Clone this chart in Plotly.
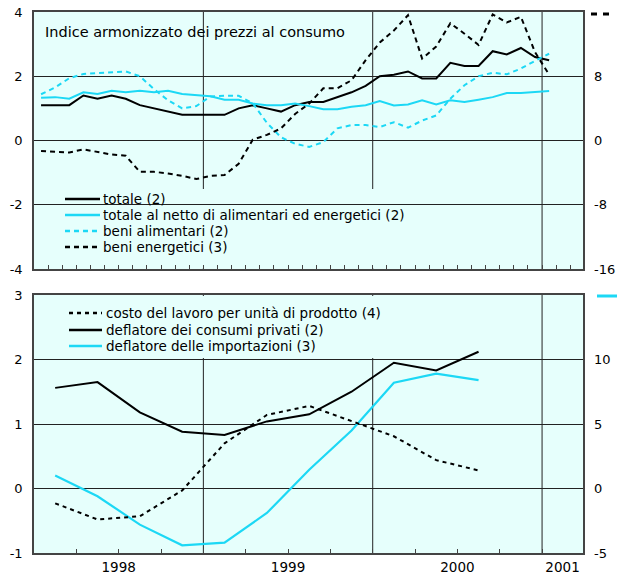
import pandas as pd
import plotly.graph_objects as go

# ---------------- data ----------------
mesi = pd.period_range("1998-01", "2001-01", freq="M")
trimestri = pd.period_range("1998Q1", "2000Q3", freq="Q")

totale = [1.1, 1.1, 1.1, 1.4, 1.3, 1.4, 1.3, 1.1, 1.0, 0.9, 0.8, 0.8, 0.8,
          0.8, 1.0, 1.1, 1.0, 0.9, 1.1, 1.2, 1.2, 1.35, 1.5, 1.7, 2.0, 2.05,
          2.15, 1.93, 1.93, 2.42, 2.32, 2.32, 2.78, 2.68, 2.88, 2.6, 2.5]
totale_netto = [1.33, 1.35, 1.3, 1.5, 1.45, 1.55, 1.5, 1.55, 1.5, 1.55, 1.45,
                1.42, 1.38, 1.27, 1.27, 1.15, 1.1, 1.1, 1.15, 1.07, 0.97, 0.97,
                1.05, 1.1, 1.23, 1.09, 1.12, 1.25, 1.12, 1.25, 1.2, 1.27, 1.35,
                1.48, 1.48, 1.51, 1.54]
beni_alimentari = [1.44, 1.65, 1.94, 2.07, 2.1, 2.12, 2.15, 2.0, 1.6, 1.25,
                   1.0, 1.07, 1.37, 1.39, 1.39, 1.16, 0.55, 0.1, -0.1, -0.2,
                   -0.05, 0.38, 0.48, 0.48, 0.42, 0.57, 0.4, 0.62, 0.78, 1.3,
                   1.72, 2.0, 2.11, 2.06, 2.24, 2.48, 2.7]
beni_energetici = [-1.3, -1.4, -1.5, -1.1, -1.4, -1.75, -1.9, -3.9, -3.9, -4.1,
                   -4.4, -4.8, -4.4, -4.3, -2.9, 0.1, 0.7, 1.5, 3.3, 4.6, 6.5,
                   6.5, 7.5, 10.0, 12.2, 13.7, 15.6, 10.2, 11.7, 14.6, 13.3,
                   11.9, 15.7, 14.7, 15.4, 11.0, 8.2]

costo_lavoro = [-0.23, -0.48, -0.43, -0.03, 0.7, 1.14, 1.28, 1.04, 0.81, 0.44, 0.28]
deflatore_consumi = [1.56, 1.65, 1.18, 0.88, 0.83, 1.04, 1.15, 1.5, 1.95, 1.83, 2.12]
deflatore_importazioni = [1.0, -0.6, -2.8, -4.4, -4.2, -1.9, 1.45, 4.5, 8.2, 8.9, 8.4]

nomi_sopra = ["totale (2)", "totale al netto di alimentari ed energetici (2)",
              "beni alimentari (2)", "beni energetici (3)"]
nomi_sotto = ["costo del lavoro per unità di prodotto (4)",
              "deflatore dei consumi privati (2)",
              "deflatore delle importazioni (3)"]
titolo = "Indice armonizzato dei prezzi al consumo"
anni = ["1998", "1999", "2000", "2001"]
anni_pos = [6, 18, 30, 37.45]
y_sx_sopra = [-4, -2, 0, 2, 4]
y_dx_sopra = [-16, -8, 0, 8]
y_sx_sotto = [-1, 0, 1, 2, 3]
y_dx_sotto = [-5, 0, 5, 10]

# ---------------- positions (months since Jan 1998) ----------------
x_m = [(p.year - 1998) * 12 + (p.month - 1) + 0.5 for p in mesi]
x_q = [(p.year - 1998) * 12 + (p.quarter - 1) * 3 + 1.5 for p in trimestri]
XR = [0, 38.9]
fine_anni = [12, 24, 36]


def lab(vals):
    return [str(v) for v in vals]


BLACK = "#000000"
CYAN = "#1CD8F5"
BG = "#E6FFFC"
FRAME = "#444444"
GRID = "#222222"
FONT = "DejaVu Sans"
DASH = "5px,4px"

fig = go.Figure()
fig.add_trace(go.Scatter(x=x_m, y=totale, name=nomi_sopra[0], mode="lines",
                         line=dict(color=BLACK, width=2), xaxis="x", yaxis="y"))
fig.add_trace(go.Scatter(x=x_m, y=totale_netto, name=nomi_sopra[1], mode="lines",
                         line=dict(color=CYAN, width=2), xaxis="x", yaxis="y"))
fig.add_trace(go.Scatter(x=x_m, y=beni_alimentari, name=nomi_sopra[2], mode="lines",
                         line=dict(color=CYAN, width=2, dash=DASH), xaxis="x", yaxis="y"))
fig.add_trace(go.Scatter(x=x_m, y=beni_energetici, name=nomi_sopra[3], mode="lines",
                         line=dict(color=BLACK, width=2, dash=DASH), xaxis="x", yaxis="y3"))

fig.add_trace(go.Scatter(x=x_q, y=costo_lavoro, name=nomi_sotto[0], mode="lines",
                         line=dict(color=BLACK, width=2, dash="4px,4px"), xaxis="x3", yaxis="y2"))
fig.add_trace(go.Scatter(x=x_q, y=deflatore_consumi, name=nomi_sotto[1], mode="lines",
                         line=dict(color=BLACK, width=2), xaxis="x2", yaxis="y2"))
fig.add_trace(go.Scatter(x=x_q, y=deflatore_importazioni, name=nomi_sotto[2], mode="lines",
                         line=dict(color=CYAN, width=2.2), xaxis="x2", yaxis="y4"))

# screen geometry (page body margin removed by post_script below)
W, H = 618, 576
ML, MT = 34, 12
PW, PH = 583 - 34, 553 - 12
MR, MB = W - ML - PW, H - MT - PH


def PX(sx):
    return (sx - ML) / PW


def PY(sy):
    return (MT + PH - sy) / PH


top_dom = [PY(269), 1]
bot_dom = [0, PY(295)]

tickfont = dict(family=FONT, size=13, color="black")
common_x = dict(range=XR, showline=True, mirror=True, linecolor=FRAME, linewidth=1.5,
                zeroline=False, showgrid=False, ticks="inside", ticklen=4,
                tickcolor=FRAME, tickwidth=1, showticklabels=False, automargin=False)
common_y = dict(showline=True, mirror=True, linecolor=FRAME, linewidth=1.5,
                zeroline=False, showgrid=True, gridcolor=GRID, gridwidth=1,
                ticks="", tickfont=tickfont, ticklabelstandoff=7, automargin=False,
                ticklabeloverflow="allow")
right_y = dict(side="right", showgrid=False, zeroline=False, showline=False,
               ticks="", tickfont=tickfont, ticklabelstandoff=10, automargin=False,
               ticklabeloverflow="allow")

fig.update_layout(
    width=W, height=H, margin=dict(l=ML, r=MR, t=MT, b=MB, autoexpand=False),
    paper_bgcolor="white", plot_bgcolor=BG, showlegend=False,
    font=dict(family=FONT, color="black"),
    xaxis=dict(common_x, anchor="y", tickvals=list(range(0, 39))),
    yaxis=dict(common_y, domain=top_dom, range=[-4, 4], tickvals=y_sx_sopra,
               ticktext=lab(y_sx_sopra), anchor="x"),
    yaxis3=dict(right_y, overlaying="y", range=[-16, 16], tickvals=y_dx_sopra,
                ticktext=lab(y_dx_sopra), anchor="x"),
    xaxis2=dict(common_x, anchor="y2", tickvals=list(range(0, 39, 3))),
    xaxis3=dict(overlaying="x2", anchor="y2", range=XR, tickvals=anni_pos,
                ticktext=anni, ticks="", showgrid=False, zeroline=False,
                showline=False, automargin=False,
                tickfont=dict(family=FONT, size=13.5, color="black"),
                ticklabelstandoff=4),
    yaxis2=dict(common_y, domain=bot_dom, range=[-1, 3], tickvals=y_sx_sotto,
                ticktext=lab(y_sx_sotto), anchor="x2"),
    yaxis4=dict(right_y, overlaying="y2", range=[-5, 15], tickvals=y_dx_sotto,
                ticktext=lab(y_dx_sotto), anchor="x2"),
)

shapes = []
annotations = []

# vertical year grid lines
for xa, ya in (("x", "y"), ("x2", "y2")):
    for xv in fine_anni:
        shapes.append(dict(type="line", xref=xa, yref=ya + " domain", layer="below",
                           x0=xv, x1=xv, y0=0, y1=1, line=dict(color=GRID, width=1)))

# cover boxes for the legends (hide grid lines under them)
shapes.append(dict(type="rect", xref="paper", yref="paper", layer="between",
                   x0=PX(52), x1=PX(418), y0=PY(268), y1=PY(189),
                   fillcolor=BG, line=dict(width=0)))
shapes.append(dict(type="rect", xref="paper", yref="paper", layer="between",
                   x0=PX(35), x1=PX(440), y0=PY(358), y1=PY(296),
                   fillcolor=BG, line=dict(width=0)))

# top legend
top_styles = [(BLACK, "solid"), (CYAN, "solid"), (CYAN, DASH), (BLACK, DASH)]
top_rows = [199, 215, 231, 247]
for name, (col, dash), yy in zip(nomi_sopra, top_styles, top_rows):
    shapes.append(dict(type="line", xref="paper", yref="paper", layer="above",
                       x0=PX(65), x1=PX(100), y0=PY(yy), y1=PY(yy),
                       line=dict(color=col, width=2.5, dash=dash)))
    annotations.append(dict(xref="paper", yref="paper", x=PX(101), y=PY(yy),
                            xanchor="left", yanchor="middle", text=name,
                            showarrow=False, font=dict(family=FONT, size=13.5, color="black")))

# bottom legend
bot_styles = [(BLACK, "4px,4px"), (BLACK, "solid"), (CYAN, "solid")]
bot_rows = [313, 330, 346]
for name, (col, dash), yy in zip(nomi_sotto, bot_styles, bot_rows):
    shapes.append(dict(type="line", xref="paper", yref="paper", layer="above",
                       x0=PX(69), x1=PX(102), y0=PY(yy), y1=PY(yy),
                       line=dict(color=col, width=2.5, dash=dash)))
    annotations.append(dict(xref="paper", yref="paper", x=PX(104), y=PY(yy),
                            xanchor="left", yanchor="middle", text=name,
                            showarrow=False, font=dict(family=FONT, size=13.5, color="black")))

# title inside top panel
annotations.append(dict(xref="paper", yref="paper", x=PX(43), y=PY(32),
                        xanchor="left", yanchor="middle", text=titolo,
                        showarrow=False, font=dict(family=FONT, size=14.5, color="black")))

# right-axis keys (which series belongs to the right scale)
for x0, x1 in ((591, 597), (603, 609)):
    shapes.append(dict(type="line", xref="paper", yref="paper", layer="above",
                       x0=PX(x0), x1=PX(x1), y0=PY(14), y1=PY(14),
                       line=dict(color=BLACK, width=3)))
shapes.append(dict(type="line", xref="paper", yref="paper", layer="above",
                   x0=PX(597), x1=PX(617), y0=PY(296), y1=PY(296),
                   line=dict(color=CYAN, width=3)))

fig.update_layout(shapes=shapes, annotations=annotations)
fig.write_html("out.html",
               config={"displayModeBar": False},
               post_script="document.body.style.margin='0';"
                           "document.body.style.overflow='hidden';")
